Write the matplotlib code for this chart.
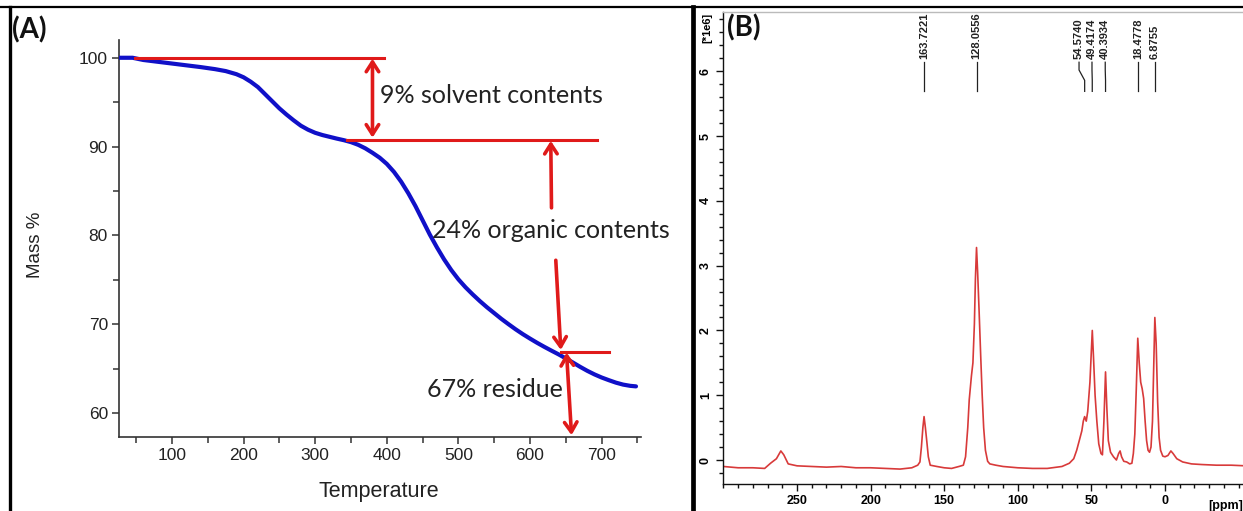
import matplotlib
matplotlib.use("Agg")
import matplotlib.pyplot as plt
from matplotlib.lines import Line2D
from matplotlib.ticker import MultipleLocator, FixedLocator
import numpy as np

# (A) TGA curve
temp = [26, 45, 60, 80, 100, 120, 140, 160, 175, 190, 200, 210, 220, 230, 240, 250,
        260, 270, 280, 290, 300, 310, 320, 330, 340, 350, 360, 370, 380, 390, 400,
        410, 420, 430, 440, 450, 460, 470, 480, 490, 500, 510, 520, 530, 540, 550,
        560, 570, 580, 590, 600, 610, 620, 630, 640, 650, 660, 670, 680, 690, 700,
        710, 720, 730, 740, 748]
mass = [100.0, 100.0, 99.75, 99.55, 99.35, 99.15, 98.95, 98.72, 98.5, 98.15, 97.8,
        97.3, 96.7, 95.9, 95.1, 94.3, 93.6, 92.95, 92.35, 91.9, 91.55, 91.3, 91.1,
        90.9, 90.72, 90.5, 90.2, 89.8, 89.3, 88.75, 88.05, 87.15, 86.05, 84.75, 83.3,
        81.7, 80.1, 78.65, 77.3, 76.1, 75.05, 74.15, 73.35, 72.6, 71.9, 71.25, 70.6,
        70.0, 69.42, 68.88, 68.38, 67.9, 67.45, 67.02, 66.6, 66.15, 65.68, 65.2, 64.75,
        64.35, 64.0, 63.7, 63.42, 63.2, 63.06, 63.0]

# (B) 13C NMR spectrum (ppm, intensity *1e6)
ppm = [300, 290, 280, 272, 268, 264, 261, 259, 256, 250, 240, 230, 220, 210, 200,
       190, 180, 172, 168, 166.5, 165.5, 164.5, 163.7, 162.8, 161.8, 160.8, 159.5,
       155, 150, 145, 140, 137, 135.5, 134, 133, 131.5, 130.5, 129.5, 128.8, 128.05,
       127.3, 126.3, 125.2, 124.2, 123.2, 122, 120.5, 119, 115, 110, 100, 90, 80,
       70, 65, 62, 60, 58, 56.5, 55.5, 54.6, 53.5, 52.5, 51, 50, 49.4, 48.6, 47.5,
       46.3, 45, 43.5, 42.5, 41.5, 40.4, 39.5, 38.5, 37, 35, 33, 31.5, 30.5, 29.5,
       28, 26, 24, 22.5, 21.5, 20.5, 19.5, 18.5, 17.5, 16.5, 15.5, 14.5, 13.5, 12.5,
       11.5, 10.5, 9.5, 8.5, 7.6, 6.9, 6.0, 5.0, 4.0, 3.0, 1.5, 0, -2, -4, -5.5, -8,
       -12, -18, -25, -35, -45, -55]
inten = [-0.10, -0.12, -0.12, -0.13, -0.05, 0.02, 0.14, 0.08, -0.06, -0.09, -0.10,
         -0.11, -0.10, -0.12, -0.12, -0.13, -0.14, -0.12, -0.08, -0.03, 0.2, 0.5,
         0.67, 0.5, 0.28, 0.05, -0.08, -0.10, -0.12, -0.13, -0.10, -0.08, 0.05, 0.5,
         0.93, 1.3, 1.5, 2.1, 2.8, 3.28, 2.9, 2.3, 1.6, 1.0, 0.5, 0.15, -0.02, -0.06,
         -0.08, -0.10, -0.12, -0.13, -0.13, -0.10, -0.05, 0.02, 0.15, 0.32, 0.45, 0.6,
         0.67, 0.6, 0.75, 1.2, 1.7, 2.0, 1.6, 1.0, 0.6, 0.25, 0.1, 0.08, 0.6, 1.36, 0.8,
         0.3, 0.12, 0.05, 0.0, 0.1, 0.14, 0.05, -0.02, -0.03, -0.06, -0.05, 0.1, 0.4,
         1.1, 1.88, 1.5, 1.2, 1.1, 0.95, 0.6, 0.3, 0.15, 0.12, 0.2, 0.6, 1.5, 2.2, 1.8,
         0.9, 0.35, 0.15, 0.06, 0.05, 0.07, 0.14, 0.1, 0.02, -0.03, -0.06, -0.07,
         -0.08, -0.08, -0.09]
ppm_ticks = [250, 200, 150, 100, 50, 0]

peak_labels = ["163.7221", "128.0556", "54.5740", "49.4174", "40.3934", "18.4778", "6.8755"]
peak_pos = [163.7221, 128.0556, 54.5740, 49.4174, 40.3934, 18.4778, 6.8755]
label_pos = [163.7221, 128.0556, 58.4, 49.6, 40.6, 18.4778, 6.8755]

RED = "#e01a1a"

fig = plt.figure(figsize=(12.43, 5.11), dpi=100)

# ---------- panel A ----------
axA = fig.add_axes([119 / 1243, 1 - 437 / 511, 522 / 1243, 397 / 511])
axA.plot(temp, mass, color="#1010c8", lw=3.0, solid_capstyle="round",
         solid_joinstyle="round", zorder=3)
axA.set_xlim(26, 755)
axA.set_ylim(57.3, 102.0)
for s in ["top", "right"]:
    axA.spines[s].set_visible(False)
for s in ["left", "bottom"]:
    axA.spines[s].set_color("#333333")
    axA.spines[s].set_linewidth(1.2)
axA.xaxis.set_major_locator(MultipleLocator(100))
axA.xaxis.set_minor_locator(MultipleLocator(50))
axA.yaxis.set_major_locator(MultipleLocator(10))
axA.yaxis.set_minor_locator(MultipleLocator(5))
axA.tick_params(which="both", direction="out", color="#333333", width=1.1,
                labelsize=12.5, labelcolor="#222222", pad=3)
axA.tick_params(which="major", length=5)
axA.tick_params(which="minor", length=4)
for lab in axA.get_xticklabels() + axA.get_yticklabels():
    lab.set_family("Liberation Sans")

# red guide lines
axA.plot([48, 396], [100.0, 100.0], color=RED, lw=2.2, zorder=4)
axA.plot([345, 693], [90.76, 90.76], color=RED, lw=2.2, zorder=4)
axA.plot([643, 710], [66.9, 66.9], color=RED, lw=2.2, zorder=4)

arrow = dict(arrowstyle="<->,head_length=0.7,head_width=0.45", color=RED, lw=2.6,
             shrinkA=0, shrinkB=0)
arrow1 = dict(arrowstyle="->,head_length=0.7,head_width=0.45", color=RED, lw=2.6,
              shrinkA=0, shrinkB=0)
axA.annotate("", xy=(380, 99.9), xytext=(380, 91.0), arrowprops=arrow)
axA.annotate("", xy=(629, 90.65), xytext=(630, 83.1), arrowprops=arrow1)
axA.annotate("", xy=(643, 67.1), xytext=(636, 77.2), arrowprops=arrow1)
axA.annotate("", xy=(658, 57.5), xytext=(651, 66.8), arrowprops=arrow, annotation_clip=False)

tfont = dict(family="Lato", fontsize=18, color="#222222", va="center", ha="left")
axA.text(391, 95.8, "9% solvent contents", **tfont)
axA.text(463, 80.6, "24% organic contents", **tfont)
axA.text(456, 62.6, "67% residue", **tfont)

fig.text(35 / 1243, 1 - 245 / 511, "Mass %", rotation=90, ha="center", va="center",
         family="Liberation Sans", fontsize=13.5, color="#222222")
fig.text(379 / 1243, 1 - 492 / 511, "Temperature", ha="center", va="center",
         family="Liberation Sans", fontsize=15.5, color="#222222")
fig.text(12 / 1243, 1 - 30 / 511, "(A)", ha="left", va="center", family="Lato",
         fontweight="bold", fontsize=20, color="#111111")

# ---------- panel B ----------
axB = fig.add_axes([723 / 1243, 1 - 484.3 / 511, 520 / 1243, 472.6 / 511])
axB.plot(ppm, inten, color="#d83a3a", lw=1.2)
axB.set_xlim(300.3, -53)
axB.set_ylim(-0.375, 6.92)
axB.spines["right"].set_visible(False)
axB.spines["top"].set_color("#bbbbbb")
axB.spines["top"].set_linewidth(1.0)
for s in ["left", "bottom"]:
    axB.spines[s].set_color("#111111")
    axB.spines[s].set_linewidth(1.0)
axB.xaxis.set_major_locator(FixedLocator(ppm_ticks))
axB.xaxis.set_minor_locator(MultipleLocator(10))
axB.yaxis.set_major_locator(MultipleLocator(1))
axB.yaxis.set_minor_locator(MultipleLocator(0.2))
axB.tick_params(which="both", direction="out", width=1.0, color="#111111",
                labelsize=9, pad=3)
axB.tick_params(which="major", length=5)
axB.tick_params(which="minor", length=3)
for lab in axB.get_xticklabels():
    lab.set_fontweight("bold")
    lab.set_family("Liberation Sans")
for lab in axB.get_yticklabels():
    lab.set_fontweight("bold")
    lab.set_family("Liberation Sans")
    lab.set_rotation(90)
    lab.set_va("center")

axB.text(-16 / 520, (484.3 - 28) / 472.6, "[*1e6]", transform=axB.transAxes,
         rotation=90, ha="center", va="center", fontsize=8, fontweight="bold",
         family="Liberation Sans")
axB.text(-41, -0.045, "[ppm]", transform=axB.get_xaxis_transform(), ha="center",
         va="center", fontsize=9, fontweight="bold", family="Liberation Sans",
         clip_on=False)
axB.text(0.008, 0.995, "(B)", transform=axB.transAxes, ha="left", va="top",
         family="Lato", fontweight="bold", fontsize=20, color="#111111")

for lab, px, lx in zip(peak_labels, peak_pos, label_pos):
    axB.plot([lx, lx, px, px], [6.14, 6.02, 5.86, 5.69], color="#222222", lw=0.9)
    axB.text(lx, 6.19, lab, rotation=90, ha="center", va="bottom", fontsize=8,
             fontweight="bold", family="Liberation Sans", color="#222222")

# panel frames
fig.add_artist(Line2D([0, 1], [1 - 7.5 / 511, 1 - 7.5 / 511], color="black", lw=1.6))
fig.add_artist(Line2D([9.5 / 1243, 9.5 / 1243], [0, 1 - 7.5 / 511], color="black", lw=2.4))
fig.add_artist(Line2D([693 / 1243, 693 / 1243], [0, 1 - 7.5 / 511], color="black", lw=3.4))

fig.savefig("out.png", dpi=100)
